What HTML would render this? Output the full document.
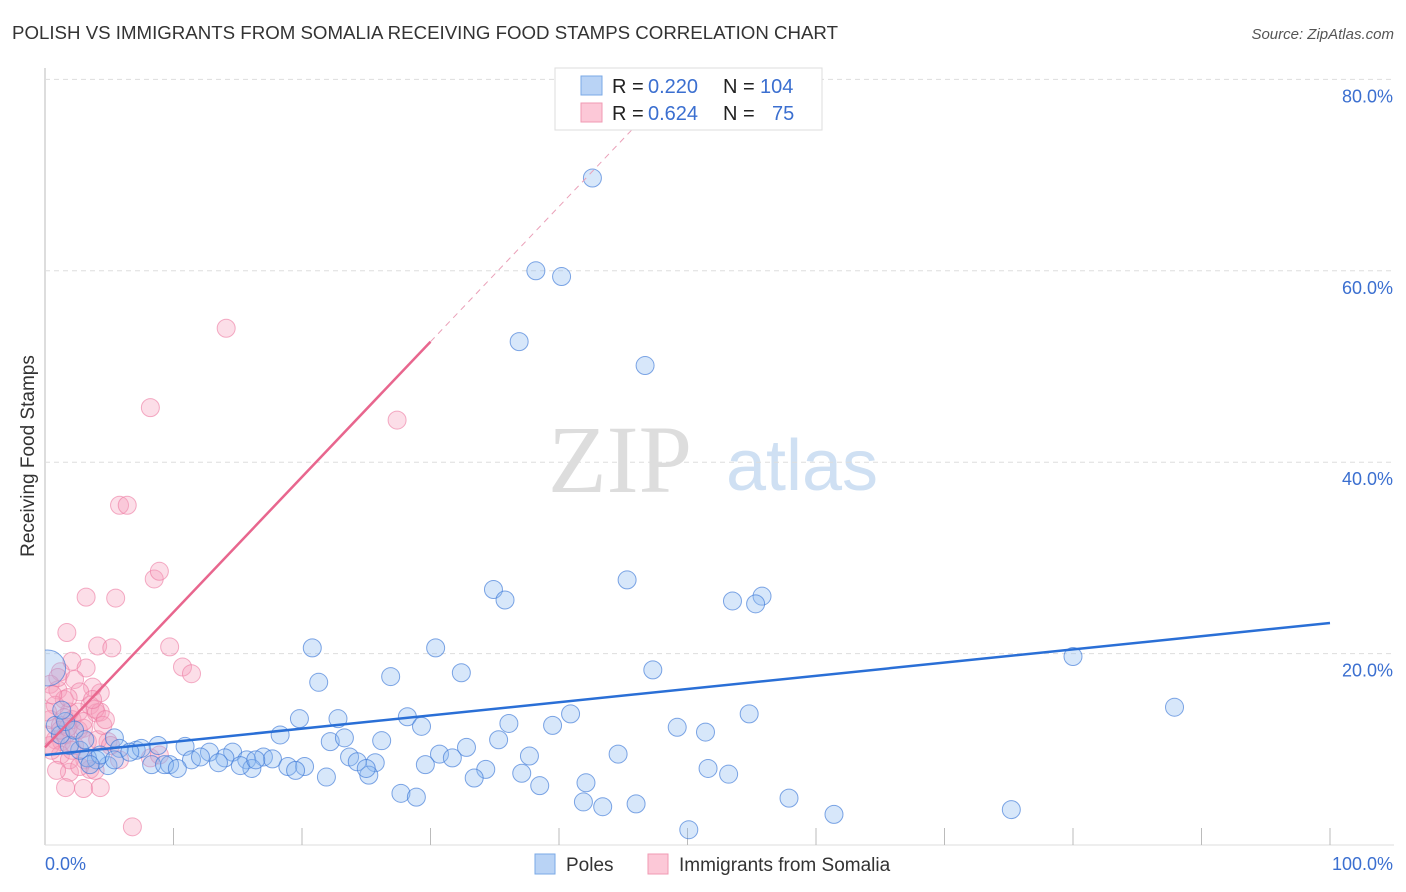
<!DOCTYPE html>
<html><head><meta charset="utf-8"><style>
body{margin:0;background:#fff;font-family:"Liberation Sans",sans-serif;}
#wrap{position:relative;width:1406px;height:892px;overflow:hidden;}
</style></head><body>
<div id="wrap">
<svg id="chart" width="1406" height="892">
<defs><clipPath id="plotclip"><rect x="45" y="60" width="1360" height="786"/></clipPath></defs>
<text x="12" y="39" font-size="18" fill="#333" textLength="826" lengthAdjust="spacingAndGlyphs">POLISH VS IMMIGRANTS FROM SOMALIA RECEIVING FOOD STAMPS CORRELATION CHART</text>
<text x="1394" y="39" font-size="15" fill="#555" font-style="italic" text-anchor="end">Source: ZipAtlas.com</text>
<text transform="translate(34,456) rotate(-90)" font-size="19" fill="#333" text-anchor="middle">Receiving Food Stamps</text>
<text x="620" y="492" font-size="96" fill="#ddd" font-family="Liberation Serif,serif" text-anchor="middle">ZIP</text>
<text x="802" y="490" font-size="72" fill="#cfe0f3" text-anchor="middle">atlas</text>
<g id="grid"></g><g id="pts" clip-path="url(#plotclip)"></g><g id="lines"></g>
<g>
<rect x="555" y="68" width="267" height="62" fill="#fff" stroke="#ddd"/>
<rect x="581" y="76" width="21" height="19" fill="#b9d3f5" stroke="#7aa8e6"/>
<rect x="581" y="103" width="21" height="19" fill="#fcc8d7" stroke="#f09ab3"/>
<g font-size="20">
<text x="612" y="93" fill="#222">R =</text><text x="648" y="93" fill="#3b6fd0">0.220</text>
<text x="723" y="93" fill="#222">N =</text><text x="760" y="93" fill="#3b6fd0">104</text></g>
<g font-size="20">
<text x="612" y="120" fill="#222">R =</text><text x="648" y="120" fill="#3b6fd0">0.624</text>
<text x="723" y="120" fill="#222">N =</text><text x="772" y="120" fill="#3b6fd0">75</text></g>
</g>
<g>
<rect x="535" y="854" width="20" height="20" fill="#b9d3f5" stroke="#7aa8e6"/>
<text x="566" y="871" font-size="19" fill="#333">Poles</text>
<rect x="648" y="854" width="20" height="20" fill="#fcc8d7" stroke="#f09ab3"/>
<text x="679" y="871" font-size="19" fill="#333">Immigrants from Somalia</text>
</g>
</svg>
</div>
<script>
const yTicks=[20,40,60,80];
const yTickLabels=["20.0%","40.0%","60.0%","80.0%"];
const xTickLabels=["0.0%","100.0%"];
const polesX=[42.6,38.2,40.2,36.9,46.7,45.3,34.9,35.8,53.5,55.8,55.3,20.8,30.4,47.3,80.0,32.4,21.3,26.9,87.9,19.8,22.8,28.2,40.9,54.8,29.3,36.1,39.5,49.2,51.4,5.4,18.3,22.2,23.3,26.2,35.3,32.8,10.9,8.8,5.8,7.1,7.5,12.8,14.6,14.0,17.0,17.7,30.7,31.7,44.6,37.7,23.7,24.3,25.7,11.4,12.1,15.7,16.1,9.7,8.3,9.3,10.3,13.5,15.2,16.4,18.9,20.2,19.5,29.6,34.3,51.6,53.2,37.1,25.2,21.9,25.0,33.4,38.5,42.1,27.7,28.9,41.9,43.4,46.0,57.9,61.4,75.2,50.1,4.9,4.0,3.3,2.7,1.9,1.2,0.8,1.6,2.3,3.1,4.3,0.2,1.3,3.5,5.4,6.6];
const polesY=[69.7,60.0,59.4,52.6,50.1,27.7,26.7,25.6,25.5,26.0,25.2,20.6,20.6,18.3,19.7,18.0,17.0,17.6,14.4,13.2,13.2,13.4,13.7,13.7,12.4,12.7,12.5,12.3,11.8,11.2,11.5,10.8,11.2,10.9,11.0,10.2,10.3,10.4,10.1,9.9,10.1,9.7,9.7,9.1,9.2,9.0,9.5,9.1,9.5,9.3,9.2,8.7,8.6,8.9,9.2,8.9,8.0,8.4,8.4,8.4,8.0,8.6,8.3,8.9,8.2,8.2,7.8,8.4,7.9,8.0,7.4,7.5,7.3,7.1,8.0,7.0,6.2,6.5,5.4,5.0,4.5,4.0,4.3,4.9,3.2,3.7,1.6,8.3,8.9,9.1,9.9,10.4,11.5,12.5,12.9,12.0,11.0,9.4,18.5,14.1,8.4,8.9,9.7];
const somX=[14.1,8.2,27.4,5.8,6.4,8.5,8.9,3.2,5.5,1.7,4.1,5.2,9.7,2.1,3.2,10.7,11.4,1.2,2.3,0.4,4.3,3.7,1.0,2.7,1.5,3.5,4.0,4.3,3.9,1.9,0.8,0.4,1.2,2.1,2.6,3.0,0.8,1.3,0.4,1.6,2.3,3.3,4.9,3.1,3.5,1.9,1.6,3.0,4.3,6.8,1.2,1.9,0.5,0.9,2.7,4.1,1.5,1.8,4.5,0.1,0.2,0.6,1.0,3.7,4.7,5.1,2.6,1.2,2.1,3.9,5.8,8.2,8.9,1.8,3.0];
const somY=[54.0,45.7,44.4,35.5,35.5,27.8,28.6,25.9,25.8,22.2,20.8,20.6,20.7,19.2,18.5,18.6,17.9,18.1,17.3,16.8,15.9,16.5,16.2,16.0,15.2,14.6,13.8,13.9,14.2,13.9,14.6,13.1,12.5,13.1,12.0,12.2,11.0,10.8,10.4,11.5,10.4,10.8,10.8,8.9,7.9,7.6,6.0,5.9,6.0,1.9,9.4,8.9,9.9,7.8,8.2,11.0,13.3,15.4,12.5,11.5,13.9,15.7,17.5,15.2,13.1,10.4,13.9,12.0,9.9,7.8,8.9,9.1,9.4,12.3,12.9];
const polesTrend=[9.4,23.2];
const somTrend=[10.2,1.413];

const NS="http://www.w3.org/2000/svg";
const X0=45,X1=1330,Y0=845,YS=9.57;
const xs=v=>X0+v*(X1-X0)/100, ys=v=>Y0-v*YS;
function mk(tag,attrs,parent){const e=document.createElementNS(NS,tag);for(const k in attrs)e.setAttribute(k,attrs[k]);parent.appendChild(e);return e;}
const grid=document.getElementById('grid'),pts=document.getElementById('pts'),lines=document.getElementById('lines');
let ax=mk('line',{x1:X0,y1:68,x2:X0,y2:Y0,stroke:'#bbb'},grid);


let bx=mk('line',{x1:X0,y1:Y0,x2:1394,y2:Y0,stroke:'#ddd'},grid);


yTicks.forEach((t,i)=>{
 const g=mk('line',{x1:X0,y1:ys(t),x2:1394,y2:ys(t),stroke:'#ddd','stroke-dasharray':'5,4'},grid);
 
 
 const tx=mk('text',{x:1393,y:ys(t)+23,'font-size':18,fill:'#3b6fd0','text-anchor':'end'},grid);
 tx.textContent=yTickLabels[i];
 
 
});
for(let k=1;k<=10;k++){
 const t=mk('line',{x1:xs(k*10),y1:828,x2:xs(k*10),y2:Y0,stroke:'#bbb'},grid);
 
 
}
[[xTickLabels[0],45,'start'],[xTickLabels[1],1393,'end']].forEach(([s,x,a])=>{
 const t=mk('text',{x:x,y:870,'font-size':18,fill:'#3b6fd0','text-anchor':a},grid);
 t.textContent=s;
 
 
});
somX.forEach((v,i)=>{
 const c=mk('circle',{cx:xs(v),cy:ys(somY[i]),r:9,fill:'rgba(247,160,190,0.35)',stroke:'rgba(236,120,160,0.6)','stroke-width':1},pts);
 
 
});
polesX.forEach((v,i)=>{
 const c=mk('circle',{cx:xs(v),cy:ys(polesY[i]),r:(i==98?18:9),fill:'rgba(140,185,240,0.35)',stroke:'rgba(60,120,215,0.65)','stroke-width':1},pts);
 
 
});
let bl=mk('line',{x1:xs(0),y1:ys(polesTrend[0]),x2:xs(100),y2:ys(polesTrend[1]),stroke:'#2a6fd6','stroke-width':2.5},lines);


let pl=mk('line',{x1:xs(0),y1:ys(somTrend[0]),x2:xs(30),y2:ys(somTrend[0]+30*somTrend[1]),stroke:'#e8668e','stroke-width':2.5},lines);


let pd=mk('line',{x1:xs(30),y1:ys(somTrend[0]+30*somTrend[1]),x2:xs(46.5),y2:ys(somTrend[0]+46.5*somTrend[1]),stroke:'#eaa0b8','stroke-width':1,'stroke-dasharray':'6,5'},lines);


</script>
</body></html>
